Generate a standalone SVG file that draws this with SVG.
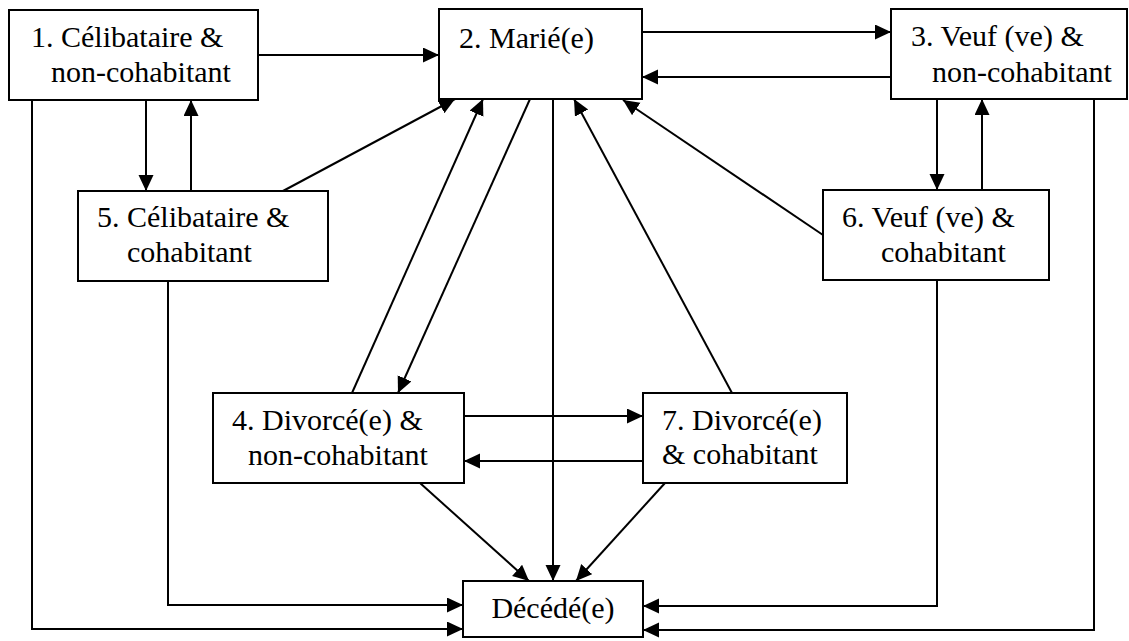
<svg xmlns="http://www.w3.org/2000/svg" width="1129" height="641" viewBox="0 0 1129 641">
<style>
.box{fill:#fff;stroke:#000;stroke-width:2}
.t{font-family:'Liberation Serif','Times New Roman',Tinos,'DejaVu Serif',serif;font-size:30px;fill:#000}
.c{fill:none;stroke:#000;stroke-width:2;marker-end:url(#ah)}
</style>
<defs>
<marker id="ah" markerUnits="userSpaceOnUse" markerWidth="18" markerHeight="16" refX="16" refY="7.5" orient="auto">
<path d="M0,0 L16,7.5 L0,15 z" fill="#000"/>
</marker>
</defs>
<rect width="1129" height="641" fill="#fff"/>
<g id="connectors">
<line class="c" x1="258" y1="55" x2="439" y2="55"/>
<line class="c" x1="642" y1="32" x2="891" y2="32"/>
<line class="c" x1="891" y1="77" x2="642" y2="77"/>
<line class="c" x1="146" y1="100" x2="146" y2="191"/>
<line class="c" x1="191" y1="191" x2="191" y2="100"/>
<line class="c" x1="937" y1="99" x2="937" y2="190"/>
<line class="c" x1="982" y1="190" x2="982" y2="99"/>
<line class="c" x1="283" y1="191" x2="455" y2="99"/>
<line class="c" x1="823" y1="235" x2="623" y2="100"/>
<line class="c" x1="352" y1="393" x2="483" y2="99"/>
<line class="c" x1="530" y1="99" x2="398" y2="393"/>
<line class="c" x1="732" y1="393" x2="574" y2="99"/>
<line class="c" x1="553" y1="99" x2="553" y2="581"/>
<line class="c" x1="464" y1="416" x2="643" y2="416"/>
<line class="c" x1="643" y1="461" x2="464" y2="461"/>
<line class="c" x1="420" y1="483" x2="529" y2="581"/>
<line class="c" x1="665" y1="483" x2="576" y2="581"/>
<polyline class="c" points="32,100 32,629 463,629"/>
<polyline class="c" points="168,281 168,605 463,605"/>
<polyline class="c" points="937,280 937,606 643,606"/>
<polyline class="c" points="1094,99 1094,630 643,630"/>
</g>
<g id="n1">
<rect class="box" x="9" y="10" width="249" height="90"/>
<text class="t" x="31" y="47">1. Célibataire &amp;</text>
<text class="t" x="51" y="82">non-cohabitant</text>
</g>
<g id="n2">
<rect class="box" x="439" y="9" width="203" height="90"/>
<text class="t" x="459" y="48">2. Marié(e)</text>
</g>
<g id="n3">
<rect class="box" x="891" y="9" width="236" height="90"/>
<text class="t" x="911" y="46">3. Veuf (ve) &amp;</text>
<text class="t" x="932" y="82">non-cohabitant</text>
</g>
<g id="n5">
<rect class="box" x="78" y="191" width="250" height="90"/>
<text class="t" x="97" y="227">5. Célibataire &amp;</text>
<text class="t" x="127" y="262">cohabitant</text>
</g>
<g id="n6">
<rect class="box" x="823" y="190" width="226" height="90"/>
<text class="t" x="842" y="227">6. Veuf (ve) &amp;</text>
<text class="t" x="881" y="262">cohabitant</text>
</g>
<g id="n4">
<rect class="box" x="213" y="393" width="251" height="90"/>
<text class="t" x="232" y="430">4. Divorcé(e) &amp;</text>
<text class="t" x="248" y="465">non-cohabitant</text>
</g>
<g id="n7">
<rect class="box" x="643" y="393" width="204" height="90"/>
<text class="t" x="662" y="430">7. Divorcé(e)</text>
<text class="t" x="662" y="464">&amp; cohabitant</text>
</g>
<g id="n8">
<rect class="box" x="463" y="581" width="180" height="56"/>
<text class="t" x="553" y="618" text-anchor="middle">Décédé(e)</text>
</g>
</svg>
